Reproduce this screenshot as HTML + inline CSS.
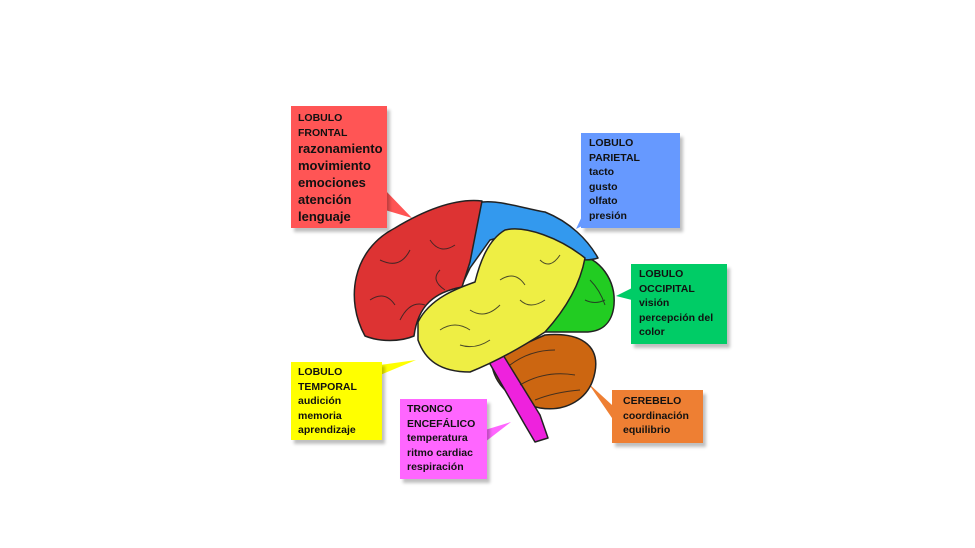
<!DOCTYPE html>
<html><head><meta charset="utf-8"><style>
body{margin:0;width:975px;height:548px;background:#fff;position:relative;overflow:hidden;font-family:"Liberation Sans",sans-serif;}
.b{position:absolute;box-sizing:border-box;color:#111;font-size:10.5px;line-height:14.5px;font-weight:bold;box-shadow:3px 4px 3px rgba(0,0,0,0.25);}
</style></head><body>
<svg width="975" height="548" style="position:absolute;left:0;top:0">
<g stroke="#222" stroke-width="1.5" stroke-linejoin="round">
<!-- pointers -->
<polygon points="385,190 412,218 385,210" fill="#ff5555" stroke="none"/>
<polygon points="585,210 576,229 590,222" fill="#6699ff" stroke="none"/>
<polygon points="632,288 616,296 632,300" fill="#00cc66" stroke="none"/>
<polygon points="380,365 416,360 380,375" fill="#ffff00" stroke="none"/>
<polygon points="485,430 511,422 485,442" fill="#ff66ff" stroke="none"/>
<polygon points="612,405 588,383 612,418" fill="#ee7f33" stroke="none"/>
<!-- brain -->
<path d="M578,255 C600,258 616,280 614,305 C612,325 600,332 585,332 L545,332 C560,310 572,290 578,255Z" fill="#22cc22"/>
<path d="M470,205 C490,196 520,208 545,212 C570,222 588,240 598,258 C585,262 575,260 560,250 L520,232 L490,240 L470,268 L462,285 Z" fill="#3399ee"/>
<path d="M545,335 C580,332 600,345 595,372 C590,400 565,412 540,408 C510,402 490,380 492,358 Z" fill="#cc6611"/>
<path d="M482,350 L500,350 L540,415 L548,438 L535,442 L525,425 Z" fill="#ee22dd"/>
<path d="M365,336 C345,300 352,250 395,228 C425,210 455,198 482,201 L470,262 L462,287 C435,292 418,305 414,336 C400,342 380,342 365,336Z" fill="#dd3333"/>
<path d="M418,322 C430,298 458,288 475,282 C480,262 488,240 505,230 C525,225 560,238 585,258 C580,285 565,310 545,332 C525,345 500,360 470,372 C440,372 425,360 418,340Z" fill="#eeee44"/>
</g>
<g stroke="#222" stroke-width="1" fill="none" opacity="0.8">
<path d="M370,300 q15,-10 25,5 M380,260 q20,10 30,-10 M400,320 q10,-20 25,-15 M430,240 q10,15 25,5 M440,270 q-10,10 5,20"/>
<path d="M440,330 q15,-10 30,0 M470,310 q15,10 30,-5 M500,280 q15,-10 25,5 M520,300 q10,10 25,0 M540,260 q10,10 20,-5 M460,345 q15,5 30,-5"/>
<path d="M590,280 q10,10 15,25 M585,300 q10,5 20,0"/>
<path d="M510,365 q20,-15 45,-15 M520,385 q25,-15 55,-10 M535,400 q20,-8 45,-10"/>
</g>
</svg>
<div class="b" style="left:291px;top:106px;width:96px;height:122px;background:#ff5555;padding:5px 0 0 7px;"><div style="font-size:10.5px;line-height:14.5px">LOBULO<br>FRONTAL</div><div style="font-size:13px;line-height:17px">razonamiento<br>movimiento<br>emociones<br>atención<br>lenguaje</div></div>
<div class="b" style="left:581px;top:133px;width:99px;height:95px;background:#6699ff;padding:3px 0 0 8px;">LOBULO<br>PARIETAL<br>tacto<br>gusto<br>olfato<br>presión</div>
<div class="b" style="left:631px;top:264px;width:96px;height:80px;background:#00cc66;padding:3px 0 0 8px;">LOBULO<br>OCCIPITAL<br>visión<br>percepción del<br>color</div>
<div class="b" style="left:291px;top:362px;width:91px;height:78px;background:#ffff00;padding:3px 0 0 7px;">LOBULO<br>TEMPORAL<br>audición<br>memoria<br>aprendizaje</div>
<div class="b" style="left:400px;top:399px;width:87px;height:80px;background:#ff66ff;padding:3px 0 0 7px;">TRONCO<br>ENCEFÁLICO<br>temperatura<br>ritmo cardiac<br>respiración</div>
<div class="b" style="left:612px;top:390px;width:91px;height:53px;background:#ee7f33;padding:4px 0 0 11px;">CEREBELO<br>coordinación<br>equilibrio</div>
</body></html>
